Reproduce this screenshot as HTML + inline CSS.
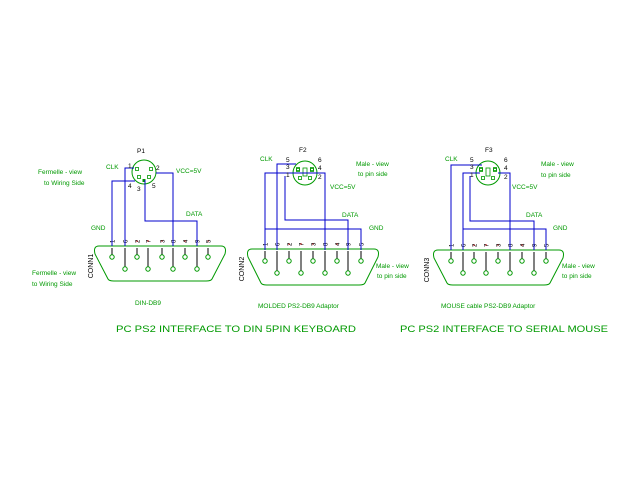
<!DOCTYPE html>
<html><head><meta charset="utf-8"><style>
html,body{margin:0;padding:0;background:#fff;}
svg{display:block;}
text{font-family:"Liberation Sans",sans-serif;fill:#009900;}
</style></head><body>
<svg id="s" width="640" height="480" xmlns="http://www.w3.org/2000/svg">
<g id="g"></g>
<g font-size="6.5">
<text x="137" y="153" fill="#000" style="fill:#000">P1</text>
<text x="106" y="169">CLK</text>
<text x="176" y="173">VCC=5V</text>
<text x="186" y="216">DATA</text>
<text x="91" y="230">GND</text>
<text x="38" y="174">Fermelle - view</text>
<text x="44" y="185">to Wiring Side</text>
<text x="32" y="275">Fermelle - view</text>
<text x="32" y="286">to Wiring Side</text>
<text x="135" y="305">DIN-DB9</text>
<text x="128" y="168" style="fill:#000">1</text>
<text x="128" y="188" style="fill:#000">4</text>
<text x="137" y="191" style="fill:#000">3</text>
<text x="156" y="170" style="fill:#000">2</text>
<text x="152" y="188" style="fill:#000">5</text>

<text x="299" y="152" style="fill:#000">F2</text>
<text x="260" y="161">CLK</text>
<text x="286" y="162" style="fill:#000">5</text>
<text x="286" y="169" style="fill:#000">3</text>
<text x="286" y="177" style="fill:#000">1</text>
<text x="318" y="162" style="fill:#000">6</text>
<text x="318" y="170" style="fill:#000">4</text>
<text x="318" y="179" style="fill:#000">2</text>
<text x="330" y="189">VCC=5V</text>
<text x="342" y="217">DATA</text>
<text x="369" y="230">GND</text>
<text x="356" y="166">Male - view</text>
<text x="358" y="176">to pin side</text>
<text x="376" y="268">Male - view</text>
<text x="377" y="278">to pin side</text>
<text x="258" y="308">MOLDED PS2-DB9 Adaptor</text>

<text x="485" y="152" style="fill:#000">F3</text>
<text x="445" y="161">CLK</text>
<text x="470" y="162" style="fill:#000">5</text>
<text x="470" y="169" style="fill:#000">3</text>
<text x="470" y="177" style="fill:#000">1</text>
<text x="504" y="162" style="fill:#000">6</text>
<text x="504" y="170" style="fill:#000">4</text>
<text x="504" y="179" style="fill:#000">2</text>
<text x="512" y="189">VCC=5V</text>
<text x="526" y="217">DATA</text>
<text x="553" y="230">GND</text>
<text x="541" y="166">Male - view</text>
<text x="541" y="177">to pin side</text>
<text x="562" y="268">Male - view</text>
<text x="562" y="278">to pin side</text>
<text x="441" y="308">MOUSE cable PS2-DB9 Adaptor</text>
</g>
<text x="116" y="332" font-size="9.5" textLength="240" lengthAdjust="spacingAndGlyphs">PC PS2 INTERFACE TO DIN 5PIN KEYBOARD</text>
<text x="400" y="332" font-size="9.5" textLength="208" lengthAdjust="spacingAndGlyphs">PC PS2 INTERFACE TO SERIAL MOUSE</text>
</svg>
<script>
var g=document.getElementById('g'),h='';
function L(pts,c){h+='<polyline points="'+pts+'" fill="none" stroke="'+c+'" stroke-width="1"/>';}
function sq(x,y){h+='<rect x="'+(x-1.5)+'" y="'+(y-1.5)+'" width="3" height="3" fill="none" stroke="#009900" stroke-width="0.8"/>';}
function conn(xs,ly,ty,by,top,bot,name,nx){
  var order=[1,6,2,7,3,8,4,9,5];
  var x0=xs[0]-13,x1=xs[8]+13;
  h+='<path d="M'+x0+' '+top+' L'+x1+' '+top+' Q'+(x1+6)+' '+top+' '+(x1+4)+' '+(top+8)+' L'+(xs[8]+4)+' '+(bot-2)+' Q'+(xs[8]+3)+' '+bot+' '+(xs[8]-2)+' '+bot+' L'+(xs[0]+2)+' '+bot+' Q'+(xs[0]-3)+' '+bot+' '+(xs[0]-4)+' '+(bot-2)+' L'+(x0-4)+' '+(top+8)+' Q'+(x0-6)+' '+top+' '+x0+' '+top+' Z" fill="none" stroke="#009900"/>';
  for(var i=0;i<9;i++){
    var x=xs[i],y=(i%2==0)?ty:by;
    L(x+','+(ly+5)+' '+x+','+(y-2),'#000');
    L(x+','+(ly-3)+' '+x+','+(ly-1),'#c00');
    h+='<circle cx="'+x+'" cy="'+y+'" r="2.2" fill="#fff" stroke="#009900"/>';
    h+='<text x="'+(x-1.5)+'" y="'+ly+'" font-size="6" style="fill:#000" transform="rotate(-90 '+(x+0.5)+' '+(ly-2)+')">'+order[i]+'</text>';
  }
  h+='<text x="'+nx+'" y="'+(top+20)+'" font-size="7" style="fill:#000" transform="rotate(-90 '+nx+' '+(top+20)+')" text-anchor="middle">'+name+'</text>';
}
function din(cx,cy,six){h+='<circle cx="'+cx+'" cy="'+cy+'" r="12" fill="none" stroke="#009900"/>';
  sq(cx-7,cy-3);sq(cx+7,cy-3);sq(cx-5,cy+5);sq(cx+5,cy+5);
  if(six){sq(cx-7,cy-8+4);sq(cx+7,cy-4);h+='<rect x="'+(cx-2)+'" y="'+(cy-5)+'" width="4" height="8" fill="none" stroke="#009900" stroke-width="0.8"/>';}
  else{h+='<rect x="'+(cx-1.5)+'" y="'+(cy+7)+'" width="3" height="3" fill="#009900"/>';}
}
var a=[112,125,137,148,162,173,185,197,208];
conn(a,243,257,269,246,281,'CONN1',93);
din(144,172,false);
L('112,246 112,181 135,181','#0000cc');
L('125,246 125,168 134,168','#0000cc');
L('156,173 173,173 173,246','#0000cc');
L('145,180 145,221 197,221 197,246','#0000cc');
var b=[265,277,289,301,313,325,337,348,361];
conn(b,246,261,273,249,285,'CONN2',244);
din(305,173,true);
L('265,250 265,173 325,173 325,250','#0000cc');
L('277,250 277,164 296,164','#0000cc');
L('285,176 285,220 348,220 348,250','#0000cc');
L('265,229 361,229 361,250','#0000cc');
var c=[451,463,474,486,498,510,522,534,546];
conn(c,247,261,273,250,285,'CONN3',429);
din(488,173,true);
L('451,250 451,165 482,165','#0000cc');
L('463,250 463,173 480,173','#0000cc');
L('463,229 546,229 546,250','#0000cc');
L('470,176 470,221 534,221 534,250','#0000cc');
L('498,173 510,173 510,250','#0000cc');
g.innerHTML=h;
</script>
</body></html>
